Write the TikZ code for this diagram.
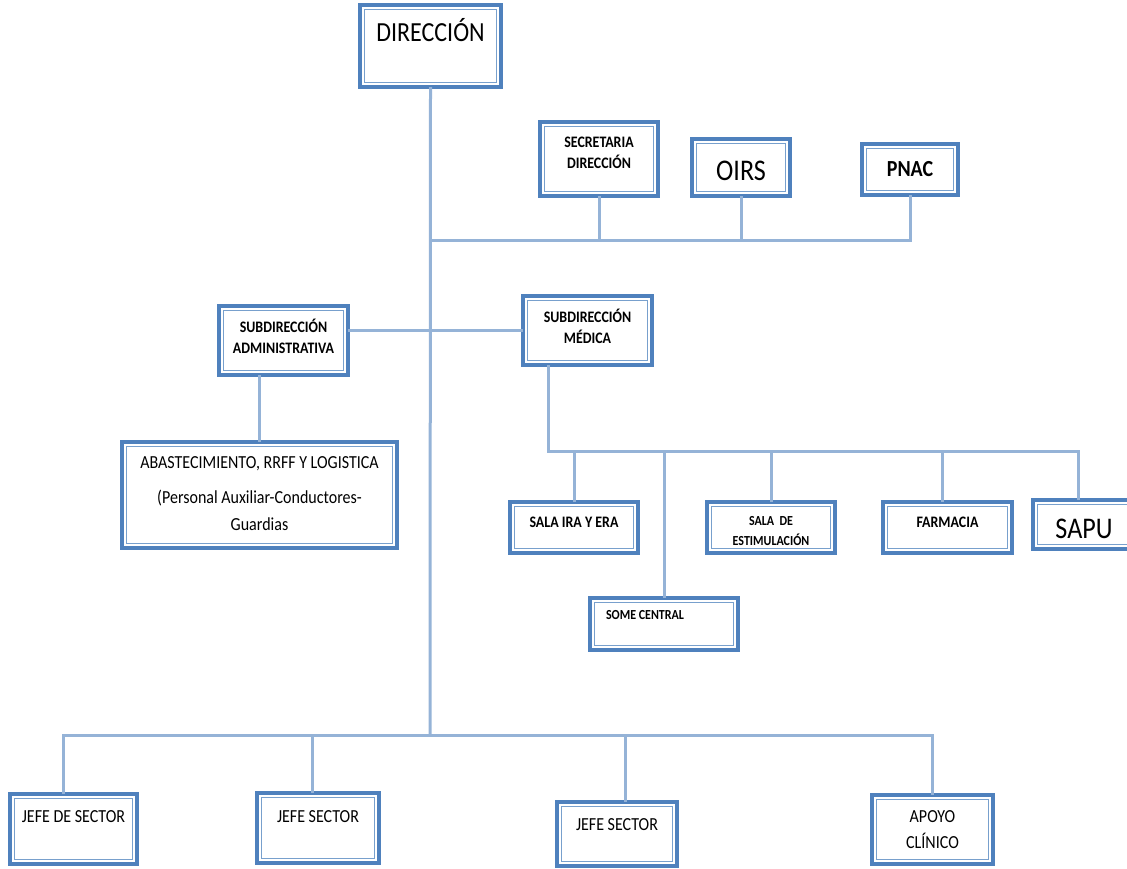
\documentclass[tikz,border=0pt]{standalone}
\usepackage{fontspec}
\setmainfont{Carlito}[FakeStretch=0.87]
\usetikzlibrary{calc}
\definecolor{boxblue}{RGB}{79,129,189}
\definecolor{rimblue}{RGB}{120,160,205}
\definecolor{linkblue}{RGB}{149,179,215}
\tikzset{
  unit/.style={draw=boxblue, line width=1.8pt, fill=white, inner sep=0pt, outer sep=0pt, anchor=north west,
    path picture={\draw[rimblue, line width=0.5pt] ([shift={(2.2pt,2.2pt)}]path picture bounding box.south west) rectangle ([shift={(-2.2pt,-2.2pt)}]path picture bounding box.north east);}},
  unittitle/.style={unit, font=\fontsize{13.8}{14}\selectfont},
  unitbold/.style={unit, font=\fontsize{8}{10.5}\selectfont\bfseries},
  unittiny/.style={unit, font=\fontsize{6.9}{10}\selectfont\bfseries},
  unitplain/.style={unit, font=\fontsize{9.2}{13.5}\selectfont},
  link/.style={draw=linkblue, line width=1.5pt}
}
\newcommand{\unittext}[4]{\parbox[c][#2][t]{#1}{\centering\rule{0pt}{#3}#4}}

\begin{document}
\begin{tikzpicture}[x=0.5pt, y=-0.5pt]
  \useasboundingbox (0,0) rectangle (1127,868);

  % direccion y staff
  \node[unittitle] (dir) at (360,5) {\unittext{70.5pt}{41pt}{18pt}{DIRECCIÓN}};
  \node[unitbold] (sec) at (540,122) {\unittext{59pt}{37pt}{12.5pt}{SECRETARIA\\DIRECCIÓN}};
  \node[unittitle, font=\fontsize{15}{15}\selectfont] (oirs) at (692,139) {\unittext{49pt}{28.5pt}{20.5pt}{OIRS}};
  \node[unit, font=\fontsize{11.5}{12}\selectfont\bfseries] (pnac) at (862,144) {\unittext{48pt}{25.5pt}{16pt}{PNAC}};

  % subdirecciones
  \node[unitbold] (adm) at (219,306) {\unittext{64.5pt}{34.5pt}{13pt}{SUBDIRECCIÓN\\ADMINISTRATIVA}};
  \node[unitbold] (med) at (523,296) {\unittext{64.5pt}{34.5pt}{13pt}{SUBDIRECCIÓN\\MÉDICA}};
  \node[unitplain] (abast) at (122,442) {\unittext{137.5pt}{53pt}{13pt}{ABASTECIMIENTO, RRFF Y LOGISTICA\\[4pt](Personal Auxiliar-Conductores-\\Guardias}};

  % unidades medicas
  \node[unitbold] (ira) at (510,502) {\unittext{64pt}{25.5pt}{12.5pt}{SALA IRA Y ERA}};
  \node[unittiny] (stim) at (707,502) {\unittext{64pt}{25.5pt}{11.5pt}{SALA~~DE\\ESTIMULACIÓN}};
  \node[unitbold] (farm) at (883,502) {\unittext{64.5pt}{25.5pt}{12.5pt}{FARMACIA}};
  \node[unittitle, font=\fontsize{15}{15}\selectfont] (sapu) at (1033,500) {\unittext{51pt}{24.5pt}{19pt}{SAPU}};
  \node[unittiny] (some) at (590,598) {\parbox[c][26pt][t]{74pt}{\rule{0pt}{10.5pt}\hspace*{8pt}SOME CENTRAL}};

  % sectores
  \node[unitplain] (j1) at (10,794) {\unittext{63.5pt}{35pt}{14pt}{JEFE DE SECTOR}};
  \node[unitplain] (j2) at (257,793) {\unittext{61pt}{35pt}{14.5pt}{JEFE SECTOR}};
  \node[unitplain] (j3) at (557,802) {\unittext{60pt}{32pt}{14pt}{JEFE SECTOR}};
  \node[unitplain, font=\fontsize{9.2}{13}\selectfont] (apoyo) at (872,795) {\unittext{60.5pt}{34.5pt}{13.5pt}{APOYO\\CLÍNICO}};

  % conectores
  \coordinate (bus1) at (430,240);
  \coordinate (bus2) at (548,451);
  \coordinate (bus3) at (430,735);
  \coordinate (m0) at ($(med.south west)!0.2!(med.south east)$);
  \coordinate (s0) at ([xshift=-3pt]sapu.north);
  \coordinate (f0) at ([xshift=-2.75pt]farm.north);
  \coordinate (jl) at ([xshift=-5.25pt]j1.north);
  \coordinate (j2a) at ([xshift=-3pt]j2.north);
  \coordinate (j3a) at ([xshift=4pt]j3.north);

  \draw[link] (dir.south) -- (bus3);
  \draw[link] (bus1) -| (pnac.south);
  \draw[link] (sec.south) -- (sec.south |- bus1);
  \draw[link] (oirs.south) -- (oirs.south |- bus1);

  \draw[link] (med.west) -- (med.west -| adm.east);
  \draw[link] (adm.south -| abast.north) -- (abast.north);

  \draw[link] (m0) |- (s0 |- bus2) -- (s0);
  \draw[link] (ira.north) -- (ira.north |- bus2);
  \draw[link] (some.north) -- (some.north |- bus2);
  \draw[link] (stim.north) -- (stim.north |- bus2);
  \draw[link] (f0) -- (f0 |- bus2);

  \draw[link] (jl) |- (bus3) -| (apoyo.north);
  \draw[link] (j2a) -- (j2a |- bus3);
  \draw[link] (j3a) -- (j3a |- bus3);
\end{tikzpicture}
\end{document}
